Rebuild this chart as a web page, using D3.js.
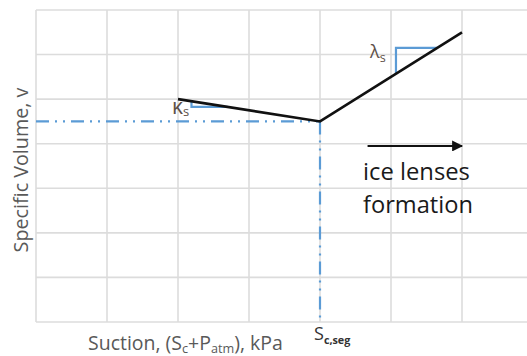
<!DOCTYPE html>
<html>
<head>
<meta charset="utf-8">
<script src="https://cdn.jsdelivr.net/npm/d3@7"></script>
<style>
  html, body { margin: 0; padding: 0; background: #fff; }
  svg { display: block; }
  text { font-family: "Open Sans", "Noto Sans", sans-serif; }
</style>
</head>
<body>
<svg id="chart" width="527" height="356"></svg>
<script>
// Grid divisions (unlabelled, schematic axes)
const xTicks = [0, 1, 2, 3, 4, 5, 6, 7];
const yTicks = [0, 1, 2, 3, 4, 5, 6, 7];

// Bilinear suction / specific-volume path: unloading (kappa) then ice-lens branch (lambda)
const pathSuction = [2, 4, 6];
const pathVolume  = [5.0, 4.5, 6.5];

// Segregation suction point
const segSuction = 4;
const segVolume = 4.5;

// Slope-triangle extents along the suction axis
const kappaTri  = [2.19, 2.70];
const lambdaTri = [5.07, 5.65];

// Direction of ice lens formation
const arrowSuction = [4.67, 6.0];
const arrowVolume = 3.95;

const svg = d3.select("#chart");
const margin = { left: 36, top: 10 };
const cellW = 71, cellH = 44.57;

const x = d3.scaleLinear().domain([0, 7]).range([margin.left, margin.left + cellW * 7]);
const y = d3.scaleLinear().domain([0, 7]).range([margin.top + cellH * 7, margin.top]);

const gridColor = "#dcdcdc";
const blue = "#5b9bd5";

// grid lines
const grid = svg.append("g");
grid.selectAll("line.v").data(xTicks).join("line")
  .attr("x1", d => x(d)).attr("x2", d => x(d))
  .attr("y1", y(0)).attr("y2", y(7))
  .attr("stroke", gridColor).attr("stroke-width", 1.6);
grid.selectAll("line.h").data(yTicks).join("line")
  .attr("y1", d => y(d)).attr("y2", d => y(d))
  .attr("x1", x(0)).attr("x2", x(7))
  .attr("stroke", gridColor).attr("stroke-width", 1.6);

// dash-dot-dot guides to the segregation point
const guide = "13,6,2,6,2,6";
svg.append("line")
  .attr("x1", x(0)).attr("x2", x(segSuction))
  .attr("y1", y(segVolume)).attr("y2", y(segVolume))
  .attr("stroke", blue).attr("stroke-width", 2.2)
  .attr("stroke-dasharray", guide);
svg.append("line")
  .attr("x1", x(segSuction)).attr("x2", x(segSuction))
  .attr("y1", y(segVolume)).attr("y2", y(0))
  .attr("stroke", blue).attr("stroke-width", 2.2)
  .attr("stroke-dasharray", guide);

// interpolation on the path for slope triangles
const volAt = s => {
  for (let i = 0; i < pathSuction.length - 1; i++) {
    const s0 = pathSuction[i], s1 = pathSuction[i + 1];
    if (s >= s0 && s <= s1) {
      return pathVolume[i] + (pathVolume[i + 1] - pathVolume[i]) * (s - s0) / (s1 - s0);
    }
  }
  return NaN;
};

const tri = ([s0, s1]) => [[s0, volAt(s0)], [s0, volAt(s1)], [s1, volAt(s1)]];
const triLine = d3.line().x(d => x(d[0])).y(d => y(d[1]));
[kappaTri, lambdaTri].forEach(t => {
  svg.append("path")
    .attr("d", triLine(tri(t)))
    .attr("fill", "none").attr("stroke", blue).attr("stroke-width", 2.2);
});

// main path
const pts = pathSuction.map((s, i) => [s, pathVolume[i]]);
svg.append("path")
  .attr("d", d3.line().x(d => x(d[0])).y(d => y(d[1]))(pts))
  .attr("fill", "none").attr("stroke", "#111").attr("stroke-width", 2.6)
  .attr("stroke-linejoin", "miter");

// arrow
const defs = svg.append("defs");
defs.append("marker")
  .attr("id", "head").attr("viewBox", "0 0 10 10")
  .attr("refX", 9).attr("refY", 5)
  .attr("markerWidth", 6).attr("markerHeight", 5.5)
  .attr("markerUnits", "strokeWidth")
  .attr("orient", "auto")
  .append("path").attr("d", "M0,0 L10,5 L0,10 Z").attr("fill", "#111");
svg.append("line")
  .attr("x1", x(arrowSuction[0])).attr("x2", x(arrowSuction[1]))
  .attr("y1", y(arrowVolume)).attr("y2", y(arrowVolume))
  .attr("stroke", "#111").attr("stroke-width", 2)
  .attr("marker-end", "url(#head)");

// fit a text element to a given width by scaling its font size
function fit(sel, width) {
  const node = sel.node();
  const fs = parseFloat(sel.attr("font-size"));
  const w = node.getComputedTextLength();
  sel.attr("font-size", (fs * width / w).toFixed(2));
  return sel;
}

// annotation text
const noteColor = "#1a1a1a";
fit(svg.append("text").attr("x", 363).attr("y", 180)
  .attr("font-size", 22).attr("fill", noteColor).text("ice lenses"), 107);
fit(svg.append("text").attr("x", 363).attr("y", 213)
  .attr("font-size", 22).attr("fill", noteColor).text("formation"), 110);

// slope labels
const slopeColor = "#5e5048";
const lam = svg.append("text").attr("x", 370).attr("y", 58)
  .attr("font-size", 18).attr("fill", slopeColor);
lam.append("tspan").text("λ");
lam.append("tspan").attr("font-size", "70%").attr("dy", 4).text("s");

const kap = svg.append("text").attr("x", 172).attr("y", 114)
  .attr("font-size", 21).attr("fill", slopeColor);
kap.append("tspan").text("κ");
kap.append("tspan").attr("font-size", "62%").attr("dy", 2).text("s");

// axis titles
const axisColor = "#595959";
const yl = svg.append("text")
  .attr("transform", "translate(28,170) rotate(-90)")
  .attr("text-anchor", "middle")
  .attr("font-size", 17).attr("fill", axisColor)
  .text("Specific Volume, v");
fit(yl, 165);

const xl = svg.append("text").attr("x", 88).attr("y", 350)
  .attr("font-size", 17).attr("fill", axisColor);
xl.append("tspan").text("Suction, (S");
xl.append("tspan").attr("font-size", "65%").attr("dy", 3).text("c");
xl.append("tspan").attr("dy", -3).text("+P");
xl.append("tspan").attr("font-size", "65%").attr("dy", 3).text("atm");
xl.append("tspan").attr("dy", -3).text("), kPa");
fit(xl, 195);

const sl = svg.append("text").attr("x", x(segSuction) - 6).attr("y", 340)
  .attr("font-size", 18).attr("fill", "#333");
sl.append("tspan").text("S");
sl.append("tspan").attr("font-size", "60%").attr("font-weight", "bold").attr("dy", 4).text("c,seg");
</script>
</body>
</html>
